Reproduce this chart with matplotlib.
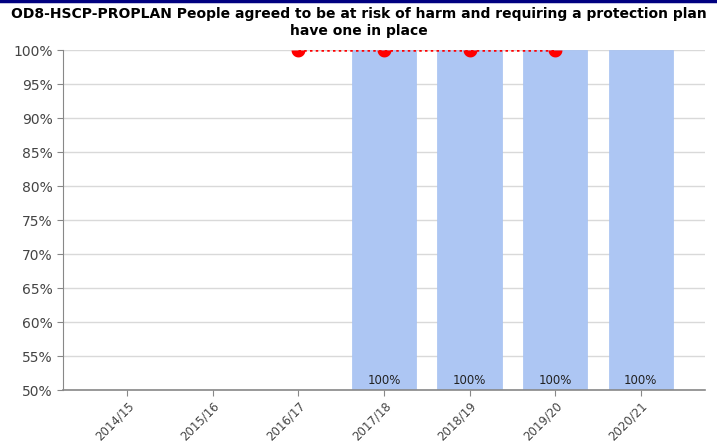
import numpy as np
import matplotlib
matplotlib.use("Agg")
import matplotlib.pyplot as plt
from matplotlib.ticker import FuncFormatter

categories = ["2014/15", "2015/16", "2016/17", "2017/18", "2018/19", "2019/20", "2020/21"]
bar_values = [np.nan, np.nan, np.nan, 100, 100, 100, 100]
line_values = [np.nan, np.nan, 100, 100, 100, 100, np.nan]
bar_labels = ["", "", "", "100%", "100%", "100%", "100%"]
yticks = [50, 55, 60, 65, 70, 75, 80, 85, 90, 95, 100]

fig = plt.figure(figsize=(7.17, 4.46), dpi=100)
fig.patch.set_facecolor("white")
ax = fig.add_axes([63/717, 1-390/446, (705-63)/717, (390-50)/446])

x = np.arange(len(categories))
ax.bar(x, bar_values, width=0.75, color="#adc6f3", zorder=2, edgecolor="#a6c1f2", linewidth=0.5)
for xi, lab, v in zip(x, bar_labels, bar_values):
    if lab:
        ax.text(xi, 50.5, lab, ha="center", va="bottom", fontsize=8.5, color="#222222", zorder=4)

# lower half-circle marker (the top half is clipped by the plot area in the reference)
ang = np.linspace(np.pi, 2 * np.pi, 25)
half_circle = np.column_stack([np.cos(ang), np.sin(ang)])
half_circle = np.vstack([half_circle, half_circle[:1]])

ax.plot(x, line_values, color="#ff0000", linestyle=(0, (1, 1.3)), linewidth=1.8, zorder=5)
ax.plot(x, line_values, linestyle="none", marker=half_circle, markersize=10,
        markerfacecolor="#ff0000", markeredgewidth=0, zorder=6)

ax.set_xlim(-0.75, 6.75)
ax.set_ylim(50, 100)
ax.set_yticks(yticks)
ax.yaxis.set_major_formatter(FuncFormatter(lambda v, p: f"{v:.0f}%"))
ax.set_xticks(x)
ax.set_xticklabels(categories, rotation=45, ha="right", rotation_mode="anchor", fontsize=8.5, color="#444444")
ax.tick_params(axis="y", labelsize=10, colors="#444444", length=4, color="#888888")
ax.tick_params(axis="x", length=4, color="#888888", pad=3)
ax.grid(axis="y", color="#d9d9d9", linewidth=1, zorder=0)
ax.set_axisbelow(True)
for s in ["top", "right"]:
    ax.spines[s].set_visible(False)
ax.spines["left"].set_color("#888888")
ax.spines["bottom"].set_color("#888888")
ax.spines["bottom"].set_linewidth(1.2)

fig.text(0.5, 1-7/446, "OD8-HSCP-PROPLAN People agreed to be at risk of harm and requiring a protection plan\nhave one in place",
         ha="center", va="top", fontsize=10, fontweight="bold", linespacing=1.25)
fig.add_artist(plt.Line2D([0, 1], [1-1/446, 1-1/446], color="#000080", linewidth=2.5, transform=fig.transFigure))

fig.savefig("out.png", dpi=100)
